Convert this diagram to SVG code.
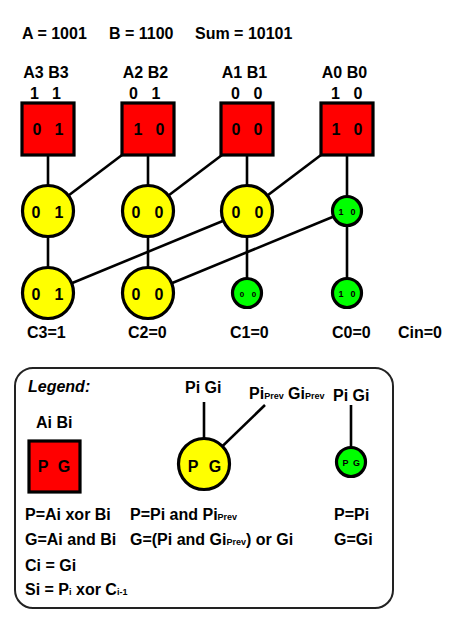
<svg xmlns="http://www.w3.org/2000/svg" width="466" height="637" viewBox="0 0 466 637">
<style>
text{font-family:"Liberation Sans",Arial,sans-serif;font-weight:bold;fill:#000;font-size:16px}
.m{text-anchor:middle}
.sq{fill:#ff0000;stroke:#000;stroke-width:3.2}
.yc{fill:#ffff00;stroke:#000;stroke-width:3.2}
.gc{fill:#00ff00;stroke:#000;stroke-width:3.2}
.ln{stroke:#000;stroke-width:2.6;fill:none}
.sm{font-size:9px}
.xs{font-size:8px}
.sub{font-size:9px}
</style>
<rect width="466" height="637" fill="#fff"/>
<g id="title">
<text x="22" y="39">A = 1001</text>
<text x="109" y="39">B = 1100</text>
<text x="195" y="39">Sum = 10101</text>
</g>
<g id="connectors">
<line class="ln" x1="48" y1="155" x2="48" y2="293"/>
<line class="ln" x1="148" y1="155" x2="148" y2="293"/>
<line class="ln" x1="247" y1="155" x2="247" y2="293"/>
<line class="ln" x1="347" y1="155" x2="347" y2="293"/>
<line class="ln" x1="122" y1="155" x2="48" y2="211"/>
<line class="ln" x1="222" y1="155" x2="148" y2="211"/>
<line class="ln" x1="321" y1="155" x2="247" y2="211"/>
<line class="ln" x1="247" y1="211" x2="48" y2="293"/>
<line class="ln" x1="347" y1="211" x2="148" y2="293"/>
</g>
<g id="col3">
<text class="m" x="46" y="78">A3 B3</text>
<text class="m" x="34.5" y="99">1</text><text class="m" x="56.5" y="99">1</text>
<rect class="sq" x="22" y="103" width="52" height="52"/>
<text class="m" x="37" y="135">0</text><text class="m" x="59" y="135">1</text>
</g>
<g id="col2">
<text class="m" x="145.5" y="78">A2 B2</text>
<text class="m" x="133.5" y="99">0</text><text class="m" x="156" y="99">1</text>
<rect class="sq" x="122" y="103" width="52" height="52"/>
<text class="m" x="138" y="135">1</text><text class="m" x="160" y="135">0</text>
</g>
<g id="col1">
<text class="m" x="244.5" y="78">A1 B1</text>
<text class="m" x="235.5" y="99">0</text><text class="m" x="258" y="99">0</text>
<rect class="sq" x="221" y="103" width="52" height="52"/>
<text class="m" x="236" y="135">0</text><text class="m" x="258" y="135">0</text>
</g>
<g id="col0">
<text class="m" x="344.5" y="78">A0 B0</text>
<text class="m" x="335.5" y="99">1</text><text class="m" x="358" y="99">0</text>
<rect class="sq" x="321" y="103" width="52" height="52"/>
<text class="m" x="336" y="135">1</text><text class="m" x="358" y="135">0</text>
</g>
<g id="r1c3"><circle class="yc" cx="48" cy="211" r="25.5"/><text class="m" x="36" y="218">0</text><text class="m" x="59" y="218">1</text></g>
<g id="r1c2"><circle class="yc" cx="148" cy="211" r="25.5"/><text class="m" x="136" y="218">0</text><text class="m" x="159" y="218">0</text></g>
<g id="r1c1"><circle class="yc" cx="247" cy="211" r="25.5"/><text class="m" x="236" y="218">0</text><text class="m" x="259" y="218">0</text></g>
<g id="r1c0"><circle class="gc" cx="347" cy="211" r="14.5"/><text class="m sm" x="341" y="215">1</text><text class="m sm" x="353" y="215">0</text></g>
<g id="r2c3"><circle class="yc" cx="48" cy="293" r="25.5"/><text class="m" x="36" y="300">0</text><text class="m" x="59" y="300">1</text></g>
<g id="r2c2"><circle class="yc" cx="148" cy="293" r="25.5"/><text class="m" x="136" y="300">0</text><text class="m" x="159" y="300">0</text></g>
<g id="r2c1"><circle class="gc" cx="247" cy="293" r="14.5"/><text class="m xs" x="242" y="297">0</text><text class="m xs" x="254" y="297">0</text></g>
<g id="r2c0"><circle class="gc" cx="347" cy="293" r="14.5"/><text class="m sm" x="341" y="297">1</text><text class="m sm" x="353" y="297">0</text></g>
<g id="carries">
<text x="27" y="338">C3=1</text>
<text x="128" y="338">C2=0</text>
<text x="230" y="338">C1=0</text>
<text x="332" y="338">C0=0</text>
<text x="398" y="338">Cin=0</text>
</g>
<g id="legend">
<rect x="15" y="368" width="378" height="240" rx="18" ry="18" fill="#fff" stroke="#222" stroke-width="2"/>
<text x="28" y="392" font-style="italic">Legend:</text>
<text x="36" y="428">Ai Bi</text>
<rect class="sq" x="29" y="441" width="51" height="51"/>
<text class="m" x="43" y="472">P</text><text class="m" x="64" y="472">G</text>
<line class="ln" x1="204" y1="402" x2="204" y2="464"/>
<line class="ln" x1="265" y1="405" x2="204" y2="464"/>
<circle class="yc" cx="204" cy="464" r="25.5"/>
<text class="m" x="193" y="472">P</text><text class="m" x="215" y="472">G</text>
<text x="185" y="393">Pi Gi</text>
<text x="249" y="399">Pi<tspan class="sub">Prev</tspan> Gi<tspan class="sub">Prev</tspan></text>
<text x="333" y="401">Pi Gi</text>
<line class="ln" x1="351" y1="405" x2="351" y2="462"/>
<circle class="gc" cx="351" cy="462" r="14.5"/>
<text class="m sm" x="345.5" y="466">P</text><text class="m sm" x="356.5" y="466">G</text>
<text x="25" y="520">P=Ai xor Bi</text>
<text x="25" y="545">G=Ai and Bi</text>
<text x="25" y="571">Ci = Gi</text>
<text x="25" y="595">Si = P<tspan class="sub">i</tspan> xor C<tspan class="sub">i-1</tspan></text>
<text x="130" y="520">P=Pi and Pi<tspan class="sub">Prev</tspan></text>
<text x="130" y="545">G=(Pi and Gi<tspan class="sub">Prev</tspan>) or Gi</text>
<text x="334" y="520">P=Pi</text>
<text x="334" y="545">G=Gi</text>
</g>
</svg>
